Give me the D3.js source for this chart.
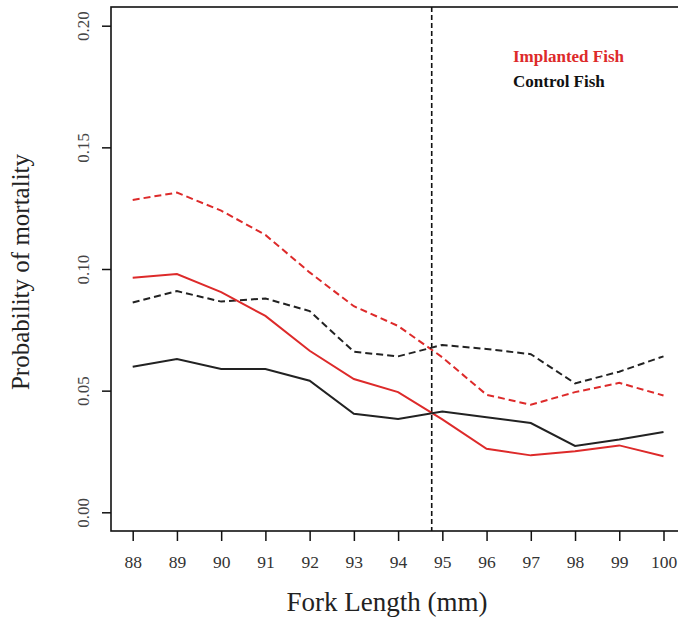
<!DOCTYPE html>
<html>
<head>
<meta charset="utf-8">
<script src="https://cdn.jsdelivr.net/npm/d3@7"></script>
<style>
    body { margin: 0; background: #fff; }
    svg { display: block; font-family: "Liberation Serif", "Times New Roman", serif; }
</style>
</head>
<body>
<div id="chart"></div>
<script>
// fork length categories (mm)
const forkLengths = [88, 89, 90, 91, 92, 93, 94, 95, 96, 97, 98, 99, 100];

// probability of mortality
const implantedSolid  = [0.0964, 0.0979, 0.0905, 0.0807, 0.0664, 0.0548, 0.0494, 0.0382, 0.0261, 0.0234, 0.0251, 0.0275, 0.0230];
const implantedDashed = [0.1284, 0.1314, 0.1240, 0.1140, 0.0986, 0.0847, 0.0766, 0.0637, 0.0483, 0.0442, 0.0494, 0.0532, 0.0480];
const controlSolid    = [0.0598, 0.0630, 0.0589, 0.0589, 0.0541, 0.0405, 0.0384, 0.0414, 0.0391, 0.0367, 0.0273, 0.0299, 0.0330];
const controlDashed   = [0.0862, 0.0909, 0.0866, 0.0879, 0.0827, 0.0660, 0.0641, 0.0688, 0.0671, 0.0650, 0.0530, 0.0578, 0.0641];

const yTicks = [0, 0.05, 0.10, 0.15, 0.20];
const cutoffLength = 94.76;

const legendLabels = ["Implanted Fish", "Control Fish"];

const width = 678, height = 620;
const red = "#dd2a2a";

let svg = d3.select("#chart")
    .append("svg")
    .attr("width", width)
    .attr("height", height);

//Scales
let xScale = d3.scaleLinear()
    .domain([88, 100])
    .range([132.7, 663.5]);

let yScale = d3.scaleLinear()
    .domain([0, 0.2])
    .range([512.3, 25.7]);

// plot box (R style, runs off the right edge)
const boxLeft = 111, boxTop = 7, boxBottom = 531;
svg.append("rect")
    .attr("x", boxLeft)
    .attr("y", boxTop)
    .attr("width", 700)
    .attr("height", boxBottom - boxTop)
    .attr("fill", "none")
    .attr("stroke", "#111")
    .attr("stroke-width", 1.6);

//Adding Axis
let yAxis = d3.axisLeft(yScale)
    .tickValues(yTicks)
    .tickFormat(d3.format(".2f"))
    .tickSize(9)
    .tickSizeOuter(0);

svg.append("g")
    .attr("transform", `translate(${boxLeft}, 0)`)
    .call(yAxis)
    .call(g => g.select(".domain").remove())
    .call(g => g.selectAll(".tick line").attr("stroke", "#111").attr("stroke-width", 1.5))
    .call(g => g.selectAll(".tick text")
        .attr("transform", "rotate(-90)")
        .attr("x", 0)
        .attr("y", -22)
        .attr("dy", 0)
        .attr("text-anchor", "middle")
        .attr("font-size", 17)
        .attr("font-family", "Liberation Serif")
        .attr("fill", "#444"));

let xAxis = d3.axisBottom(xScale)
    .tickValues(forkLengths)
    .tickFormat(d3.format("d"))
    .tickSize(10)
    .tickPadding(14.5);

svg.append("g")
    .attr("transform", `translate(0, ${boxBottom})`)
    .call(xAxis)
    .call(g => g.select(".domain").remove())
    .call(g => g.selectAll(".tick line").attr("stroke", "#111").attr("stroke-width", 1.5))
    .call(g => g.selectAll(".tick text")
        .attr("font-size", 17.5)
        .attr("font-family", "Liberation Serif")
        .attr("fill", "#333"));

// axis titles
svg.append("text")
    .attr("x", 387)
    .attr("y", 611)
    .attr("text-anchor", "middle")
    .attr("font-size", 27)
    .attr("fill", "#222")
    .text("Fork Length (mm)");

svg.append("text")
    .attr("transform", "translate(29, 272) rotate(-90)")
    .attr("text-anchor", "middle")
    .attr("font-size", 25)
    .attr("fill", "#222")
    .text("Probability of mortality");

// cutoff line
svg.append("line")
    .attr("x1", xScale(cutoffLength))
    .attr("x2", xScale(cutoffLength))
    .attr("y1", boxTop)
    .attr("y2", boxBottom)
    .attr("stroke", "#111")
    .attr("stroke-width", 1.6)
    .attr("stroke-dasharray", "5,3");

// series lines
const series = [
    { values: implantedDashed, color: red, dash: "7,4" },
    { values: controlDashed, color: "#222", dash: "7,4" },
    { values: implantedSolid, color: red, dash: null },
    { values: controlSolid, color: "#222", dash: null }
];

let lineGenerator = d3.line()
    .x((d, i) => xScale(forkLengths[i]))
    .y(d => yScale(d));

svg.append("g")
    .selectAll("path")
    .data(series)
    .join("path")
    .attr("d", d => lineGenerator(d.values))
    .attr("fill", "none")
    .attr("stroke", d => d.color)
    .attr("stroke-width", 2)
    .attr("stroke-dasharray", d => d.dash);

// legend
svg.append("g")
    .selectAll("text")
    .data(legendLabels)
    .join("text")
    .attr("x", 513)
    .attr("y", (d, i) => 62 + i * 25)
    .attr("font-size", 17)
    .attr("font-weight", "bold")
    .attr("fill", (d, i) => i === 0 ? red : "#111")
    .text(d => d);
</script>
</body>
</html>
